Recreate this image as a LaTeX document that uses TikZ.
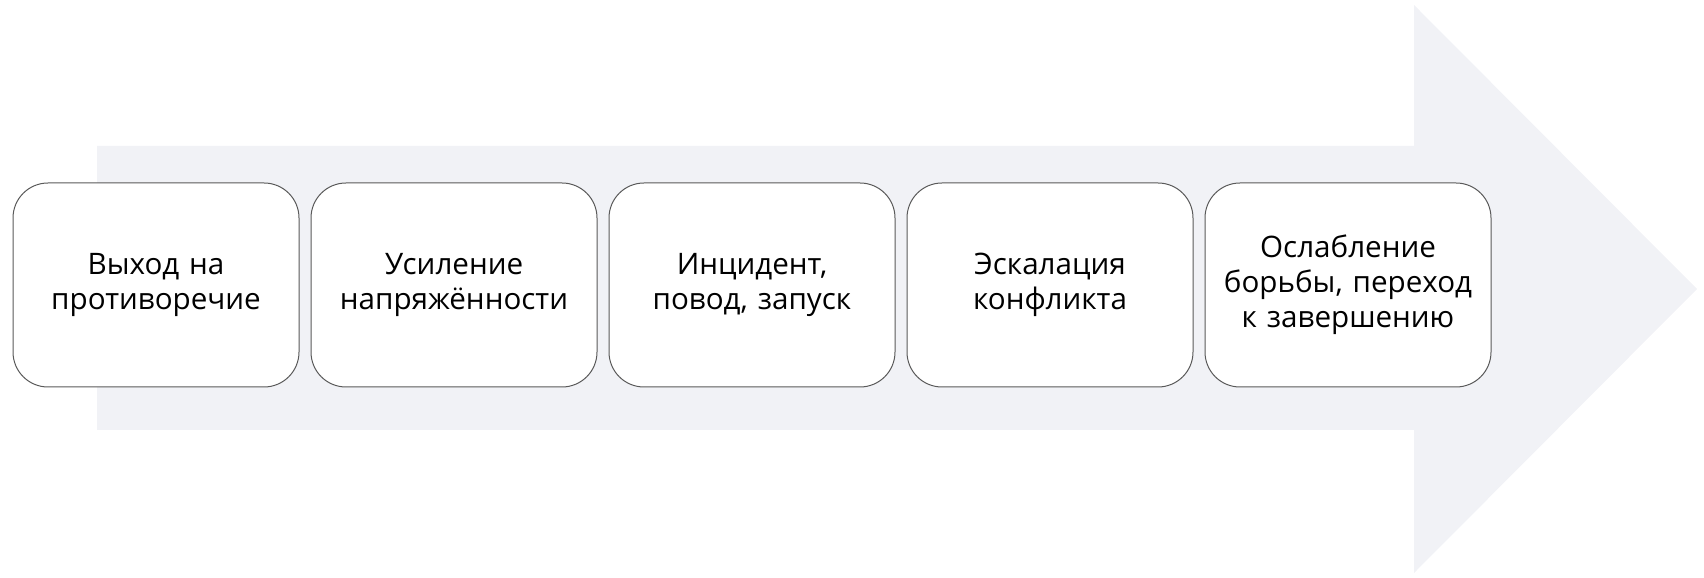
\documentclass[tikz,border=0pt]{standalone}
\usepackage{fontspec}
\setmainfont{Open Sans}
\usepackage{tikz}
\usetikzlibrary{positioning}
\definecolor{arrowgrey}{HTML}{F1F2F6}
\definecolor{boxline}{HTML}{5A5A5A}

\begin{document}
\begin{tikzpicture}[
    x=1pt, y=1pt,
    node distance=5.5pt,
    stage/.style={rectangle, draw=boxline, line width=0.5pt, fill=white, rounded corners=17.5pt, text width=134pt, inner sep=4pt, align=center, minimum width=143pt, minimum height=102pt, font=\fontsize{14.8}{17.5}\selectfont}
]
\useasboundingbox (0,0) rectangle (852,289);

% Background arrow
\fill[arrowgrey] (48.5,74) -- (707,74) -- (707,2.5) -- (848.5,144.5) -- (707,286.5) -- (707,216) -- (48.5,216) -- cycle;

% Nodes
\node[stage] (exit) at (78,146.5) {Выход на\\противоречие};
\node[stage, right=of exit] (tension) {Усиление\\напряжённости};
\node[stage, right=of tension] (incident) {Инцидент,\\повод, запуск};
\node[stage, right=of incident] (escalation) {Эскалация\\конфликта};
\node[stage, right=of escalation] (weakening) {Ослабление\\борьбы, переход\\к завершению};

\end{tikzpicture}
\end{document}
